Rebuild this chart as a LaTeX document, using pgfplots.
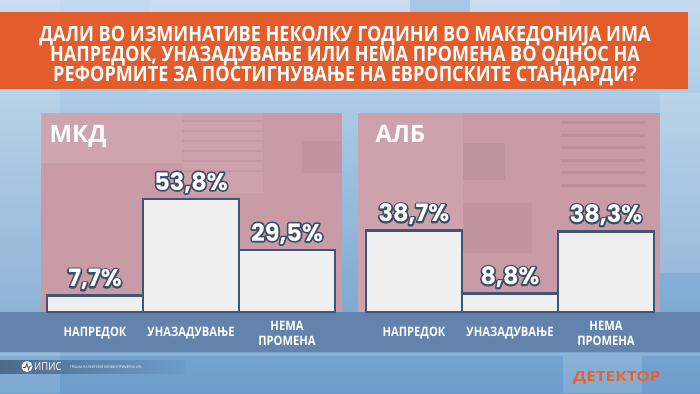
\documentclass[border=0pt]{standalone}
\usepackage{pgfplots}
\pgfplotsset{compat=1.18}
\usepackage{fontspec}
\setmainfont{Open Sans}
\newfontfamily\condb[FakeStretch=0.86]{Open Sans}
\newfontfamily\numf{Poppins}
\definecolor{bgtop}{HTML}{C3DAEE}
\definecolor{bgbot}{HTML}{6D9DCB}
\definecolor{banner}{HTML}{E35D2C}
\definecolor{panel}{HTML}{C99BA6}
\definecolor{band}{HTML}{6283AB}
\definecolor{barfill}{HTML}{EFEFF0}
\definecolor{barline}{HTML}{3E5673}
\definecolor{detektor}{HTML}{E8622A}
\newcommand\outl[1]{\rlap{\special{pdf:literal direct 2 Tr 3.4 w 1 j 0.24 0.31 0.40 RG 0.24 0.31 0.40 rg}#1\special{pdf:literal direct 0 Tr 1 1 1 rg 1 1 1 RG}}#1}
\pgfplotsset{
  panel/.style={
    scale only axis, width=288pt, height=126pt,
    anchor=south west,
    xmin=-0.5, xmax=2.5, ymin=0, ymax=60,
    axis line style={draw=none},
    major tick length=0pt,
    ytick=\empty, xtick={0,1,2},
    clip=false,
    xticklabel style={anchor=center, yshift=-21pt, align=center, text=white,
      font=\condb\bfseries\fontsize{13}{15}\selectfont},
    ybar, bar width=1, bar shift=0pt,
    point meta=explicit symbolic,
    nodes near coords={\outl{\pgfplotspointmeta}},
    nodes near coords align={anchor=base},
    every node near coord/.append style={anchor=base, yshift=9pt, text=white,
      font=\numf\bfseries\fontsize{24}{24}\selectfont},
  },
  bars/.style={fill=barfill, draw=barline, line width=2.8pt},
}
\begin{document}
\begin{tikzpicture}[x=1pt,y=1pt]
\useasboundingbox (0,0) rectangle (700,393);
% background
\shade[top color=bgtop, bottom color=bgbot] (0,0) rectangle (700,393);
\fill[white, opacity=0.12] (0,0) rectangle (60,393);
\fill[white, opacity=0.10] (150,300) rectangle (560,393);
\fill[bgbot, opacity=0.35] (410,380) rectangle (470,393);
\fill[white, opacity=0.15] (660,120) rectangle (700,300);
% banner
\fill[banner] (0,304) rectangle (688,381);
\node[text=white, font=\condb\bfseries\fontsize{21}{20}\selectfont, align=center]
  at (345,337) {ДАЛИ ВО ИЗМИНАТИВЕ НЕКОЛКУ ГОДИНИ ВО МАКЕДОНИЈА ИМА\\
  НАПРЕДОК, УНАЗАДУВАЊЕ ИЛИ НЕМА ПРОМЕНА ВО ОДНОС НА\\
  РЕФОРМИТЕ ЗА ПОСТИГНУВАЊЕ НА ЕВРОПСКИТЕ СТАНДАРДИ?};
% panels
\fill[panel] (41,81) rectangle (342,280);
\fill[panel] (358,81) rectangle (660,280);
\fill[white, opacity=0.10] (41,230) rectangle (182,280);
\fill[white, opacity=0.08] (182,200) rectangle (263,280);
\fill[black, opacity=0.04] (302,220) rectangle (342,252);
\foreach \yy in {271,261,251,241,231,221} {\fill[black, opacity=0.05] (182,\yy) rectangle (263,\yy+2);}
\fill[white, opacity=0.08] (358,81) rectangle (463,280);
\fill[black, opacity=0.05] (463,213) rectangle (505,250);
\fill[black, opacity=0.04] (463,140) rectangle (532,190);
\foreach \yy in {269,256,244,231,219,206} {\fill[black, opacity=0.07] (561,\yy) rectangle (645,\yy+3);}
\node[anchor=base west, text=white, font=\bfseries\fontsize{24}{24}\selectfont] at (46,250) {МКД};
\node[anchor=base west, text=white, font=\bfseries\fontsize{24}{24}\selectfont] at (372,250) {АЛБ};
% band
\fill[band] (0,41) rectangle (700,81);
\fill[white, opacity=0.18] (0,37) rectangle (700,40);
% left chart
\begin{axis}[panel, at={(47pt,81pt)},
  xticklabels={НАПРЕДОК, УНАЗАДУВАЊЕ, {НЕМА\\ПРОМЕНА}}]
\addplot[bars] coordinates {(0,7.7) [7,7\%] (1,53.8) [53,8\%] (2,29.5) [29,5\%]};
\end{axis}
% right chart
\begin{axis}[panel, at={(366pt,81pt)},
  xticklabels={НАПРЕДОК, УНАЗАДУВАЊЕ, {НЕМА\\ПРОМЕНА}}]
\addplot[bars] coordinates {(0,38.7) [38,7\%] (1,8.8) [8,8\%] (2,38.3) [38,3\%]};
\end{axis}
% footer logos
\shade[left color=band!80!black, right color=bgbot] (0,20) rectangle (185,33);
\fill[white] (27,26.5) circle (5.5);
\draw[band!70!black, line width=0.9pt] (23,25.5) -- (25.5,25.5) -- (27,29.5) -- (28.5,23.5) -- (30,27) -- (32,27);
\node[anchor=west, text=white, font=\condb\fontsize{11}{11}\selectfont, inner sep=0pt] at (34,26.5) {ИПИС};
\node[anchor=west, text=white, font=\condb\fontsize{3.6}{4}\selectfont, inner sep=0pt] at (70,26) {ГРЕШКА НА РЕПРЕЗЕНТАТИВЕН ПРИМЕРОК ±3\%};
\fill[white, opacity=0.15] (563,0) rectangle (642,37);
\node[anchor=west, text=detektor, font=\bfseries\fontsize{14}{14}\selectfont, inner sep=0pt] at (573,15) {\scalebox{1.22}[1]{ДЕТЕКТОР}};
\end{tikzpicture}
\end{document}
